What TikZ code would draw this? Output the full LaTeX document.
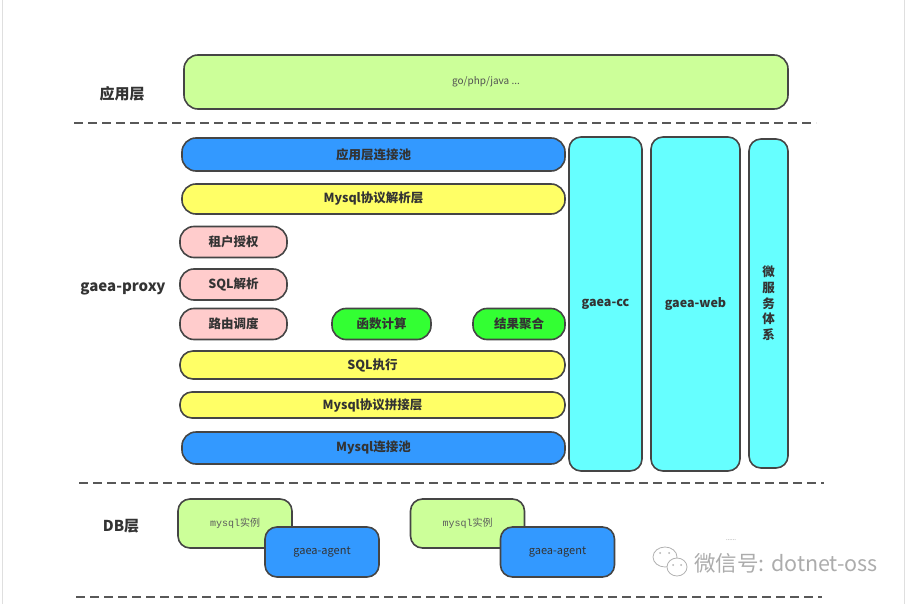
\documentclass[tikz,border=0pt]{standalone}
\usepackage{fontspec}
\setmainfont{Noto Sans CJK SC}
\newfontfamily\monofnt{Liberation Mono}
\definecolor{appgreen}{HTML}{CCFF99}
\definecolor{poolblue}{HTML}{3399FF}
\definecolor{protoyellow}{HTML}{FFFF66}
\definecolor{stagepink}{HTML}{FFCCCC}
\definecolor{calcgreen}{HTML}{33FF33}
\definecolor{sidecyan}{HTML}{66FFFF}
\definecolor{edgegray}{HTML}{454545}
\definecolor{txtgray}{HTML}{333333}
\tikzset{
  layerbox/.style={draw=edgegray, line width=1.6pt, inner sep=0pt, text=txtgray,
                   font=\bfseries\fontsize{12.5}{14}\selectfont},
  sepline/.style={draw=edgegray!90, line width=2pt, dash pattern=on 9pt off 5pt},
  layername/.style={text=txtgray, font=\bfseries\fontsize{15}{17}\selectfont}
}
\begin{document}
\begin{tikzpicture}[x=1pt, y=-1pt]
  \useasboundingbox (0,0) rectangle (909,604);
  % frame of the page
  \draw[gray!25, line width=1pt] (2,0) -- (2,604);
  \draw[gray!25, line width=1pt] (904,0) -- (904,604);

  % layer names
  \node[layername] (lapp) at (122,94) {应用层};
  \node[layername] (lproxy) at (123,289) {gaea-proxy};
  \node[layername] (ldb) at (121,526) {DB层};

  % separators
  \draw[sepline] (74,123) -- (816,123);
  \draw[sepline] (79,483) -- (824,483);
  \draw[sepline] (76,597) -- (822,597);

  % application layer
  \node[layerbox, fill=appgreen, rounded corners=14pt, minimum width=604pt, minimum height=54pt,
        font=\fontsize{10}{12}\selectfont, text=txtgray!85] (app) at (486,82) {go/php/java ...};

  % proxy layers
  \begin{scope}[every node/.append style={minimum width=383pt}]
    \node[layerbox, fill=poolblue, rounded corners=14pt, minimum height=33pt] (apppool) at (373.5,154.5) {应用层连接池};
    \node[layerbox, fill=protoyellow, rounded corners=14pt, minimum height=30pt] (parser) at (373.5,199) {Mysql协议解析层};
    \node[layerbox, fill=protoyellow, rounded corners=13pt, minimum width=385pt, minimum height=28pt] (exec) at (372.5,365) {SQL执行};
    \node[layerbox, fill=protoyellow, rounded corners=12pt, minimum width=385pt, minimum height=26pt] (splice) at (372.5,405) {Mysql协议拼接层};
    \node[layerbox, fill=poolblue, rounded corners=14pt, minimum height=32pt] (dbpool) at (373.5,448) {Mysql连接池};
  \end{scope}

  \begin{scope}[every node/.append style={rounded corners=14pt, minimum height=31pt}]
    \node[layerbox, fill=stagepink, minimum width=107pt] (tenant) at (233.5,242) {租户授权};
    \node[layerbox, fill=stagepink, minimum width=107pt] (sqlparse) at (233.5,284.5) {SQL解析};
    \node[layerbox, fill=stagepink, minimum width=107pt] (route) at (233.5,324) {路由调度};
    \node[layerbox, fill=calcgreen, minimum width=99pt] (func) at (381.5,324) {函数计算};
    \node[layerbox, fill=calcgreen, minimum width=92pt] (merge) at (519,324) {结果聚合};
  \end{scope}

  % side columns
  \node[layerbox, fill=sidecyan, rounded corners=12pt, minimum width=73pt, minimum height=334pt] (cc) at (605.5,304) {gaea-cc};
  \node[layerbox, fill=sidecyan, rounded corners=12pt, minimum width=89pt, minimum height=334pt] (web) at (695.5,304) {gaea-web};
  \node[layerbox, fill=sidecyan, rounded corners=12pt, minimum width=39pt, minimum height=329pt] (micro) at (768.5,303.5) {};
  \node[text=txtgray, align=center, font=\bfseries\fontsize{12.5}{15.7}\selectfont] (microtxt) at (micro.center) {微\\服\\务\\体\\系};

  % DB layer
  \begin{scope}[every node/.append style={rounded corners=12pt, minimum width=114pt}]
    \node[layerbox, fill=appgreen, minimum height=49pt, font=\fontsize{10}{12}\selectfont, text=txtgray!80] (inst1) at (235,523.5) {{\monofnt mysql}实例};
    \node[layerbox, fill=poolblue, minimum height=50pt, font=\fontsize{11}{13}\selectfont] (agent1) at (322,552) {gaea-agent};
    \node[layerbox, fill=appgreen, minimum height=49pt, font=\fontsize{10}{12}\selectfont, text=txtgray!80] (inst2) at (467.5,523.5) {{\monofnt mysql}实例};
    \node[layerbox, fill=poolblue, minimum height=50pt, font=\fontsize{11}{13}\selectfont] (agent2) at (557.5,552) {gaea-agent};
  \end{scope}
  \node[text=txtgray!70, font=\fontsize{6}{7}\selectfont] (more) at (731,540) {......};

  % watermark
  \begin{scope}[draw=gray!60, line width=0.8pt]
    \draw[fill=white] (665,557) ellipse [x radius=12pt, y radius=10pt];
    \draw[fill=white] (677,567) ellipse [x radius=10pt, y radius=9pt];
    \fill[gray!60] (660,553) circle (1pt) (669,553) circle (1pt) (673,565) circle (1pt) (681,565) circle (1pt);
  \end{scope}
  \node[anchor=west, text=gray!65, inner sep=0pt, font=\fontsize{21.5}{23}\selectfont] (mark) at (694,563) {微信号: dotnet-oss};
\end{tikzpicture}
\end{document}
